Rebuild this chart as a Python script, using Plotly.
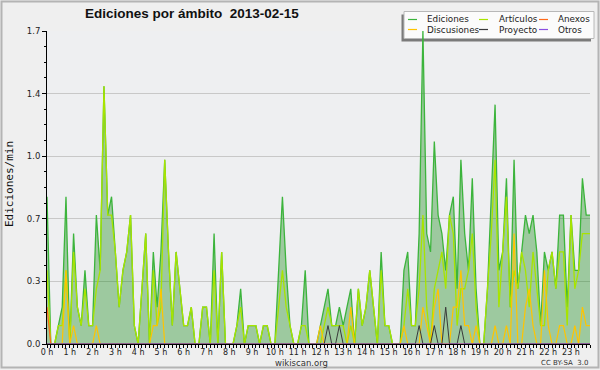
import plotly.graph_objects as go

# 10-minute bins over the day (144 bins), values in edits/min
minutes = list(range(0, 1440, 10))

ediciones = [
    0.8, 0, 0, 0.1, 0.2, 0.8, 0, 0.6, 0.2, 0.1, 0.4, 0.1, 0.1, 0.7, 0.4, 1.4, 0.7, 0.8, 0.5, 0.2, 0.4, 0.5, 0.7, 0.1,
    0, 0.3, 0.6, 0, 0.5, 0.2, 0.5, 1.0, 0.5, 0.1, 0.5, 0.3, 0.1, 0.1, 0.2, 0, 0, 0.2, 0.2, 0, 0.6, 0, 0.5, 0,
    0, 0, 0.1, 0.3, 0, 0.1, 0.1, 0.1, 0, 0.1, 0.1, 0, 0, 0.4, 0.8, 0.4, 0.1, 0, 0, 0.1, 0.4, 0, 0, 0,
    0.1, 0.2, 0.3, 0.1, 0.1, 0.2, 0.1, 0.2, 0.3, 0, 0.3, 0.1, 0.2, 0.4, 0.2, 0, 0.5, 0.1, 0.1, 0, 0, 0, 0.4, 0.5,
    0.1, 0.1, 0.6, 1.7, 0.6, 0.5, 1.1, 0.7, 0.6, 0.4, 0.7, 0.8, 0.3, 1.0, 0.6, 0.4, 0.9, 0.3, 0, 0, 0.3, 0.8, 1.3, 0.4,
    0.5, 0.9, 0.2, 1.0, 0.3, 0.5, 0.7, 0.6, 0.7, 0.5, 0.1, 0.5, 0.4, 0.5, 0.3, 0.7, 0.7, 0.2, 0.7, 0.4, 0.4, 0.9, 0.7, 0.7,
]

articulos = [
    0.4, 0, 0, 0.1, 0.1, 0.4, 0, 0.5, 0.2, 0.1, 0.3, 0.1, 0.1, 0.3, 0.4, 1.4, 0.7, 0.7, 0.5, 0.2, 0.4, 0.5, 0.7, 0.1,
    0, 0.3, 0.6, 0, 0.4, 0.1, 0.2, 1.0, 0.5, 0.1, 0.5, 0.3, 0.1, 0.1, 0.2, 0, 0, 0.2, 0.2, 0, 0.4, 0, 0.5, 0,
    0, 0, 0.1, 0.2, 0, 0.1, 0.1, 0.1, 0, 0.1, 0.1, 0, 0, 0.2, 0.4, 0.2, 0.1, 0, 0, 0.1, 0.1, 0, 0, 0,
    0, 0.1, 0.2, 0.1, 0.1, 0.1, 0.1, 0, 0.1, 0, 0.3, 0.1, 0.2, 0.4, 0.2, 0, 0.4, 0.1, 0.1, 0, 0, 0, 0.1, 0.3,
    0.1, 0.1, 0.3, 0.7, 0.2, 0, 0.3, 0.4, 0.5, 0.3, 0.7, 0.6, 0.1, 0.3, 0.3, 0.4, 0.6, 0.2, 0, 0, 0.3, 0.6, 1.0, 0.2,
    0.5, 0.8, 0.2, 0.4, 0.3, 0.5, 0.4, 0.2, 0.5, 0.3, 0.1, 0.1, 0.4, 0.5, 0.3, 0.5, 0.5, 0.1, 0.7, 0.3, 0.4, 0.6, 0.6, 0.6,
]

anexos = [
    0.2, 0, 0, 0, 0, 0, 0, 0, 0, 0, 0, 0, 0, 0, 0, 0, 0, 0, 0, 0, 0, 0, 0, 0,
    0, 0, 0, 0, 0, 0, 0, 0, 0, 0, 0, 0, 0, 0, 0, 0, 0, 0, 0, 0, 0, 0, 0, 0,
    0, 0, 0, 0, 0, 0, 0, 0, 0, 0, 0, 0, 0, 0, 0, 0, 0, 0, 0, 0, 0, 0, 0, 0,
    0, 0, 0, 0, 0, 0, 0, 0, 0, 0, 0, 0, 0, 0, 0, 0, 0, 0, 0, 0, 0, 0, 0, 0,
    0, 0, 0, 0, 0, 0, 0, 0, 0, 0, 0, 0, 0, 0, 0, 0, 0, 0, 0, 0, 0, 0, 0, 0,
    0, 0, 0, 0, 0, 0, 0, 0, 0, 0, 0, 0, 0, 0, 0, 0, 0, 0, 0, 0, 0, 0, 0, 0,
]

discusiones = [
    0, 0, 0, 0, 0, 0.4, 0, 0.1, 0, 0, 0, 0, 0, 0.1, 0, 0, 0, 0, 0, 0, 0, 0, 0, 0,
    0, 0, 0, 0, 0.1, 0.1, 0.3, 0, 0, 0, 0, 0, 0, 0, 0, 0, 0, 0, 0, 0, 0, 0, 0, 0,
    0, 0, 0, 0, 0, 0, 0, 0, 0, 0, 0, 0, 0, 0, 0, 0, 0, 0, 0, 0, 0, 0, 0, 0,
    0.1, 0, 0, 0, 0, 0, 0, 0, 0.2, 0, 0, 0, 0, 0, 0, 0, 0, 0, 0, 0, 0, 0, 0.1, 0,
    0, 0, 0, 0.2, 0.1, 0, 0.2, 0.3, 0, 0, 0, 0.2, 0.2, 0.4, 0.1, 0.1, 0, 0.1, 0, 0, 0, 0, 0.1, 0,
    0, 0.1, 0, 0.6, 0, 0, 0.2, 0.3, 0.1, 0, 0, 0.4, 0.1, 0, 0, 0.1, 0.1, 0, 0, 0.1, 0, 0.2, 0.1, 0.1,
]

proyecto = [
    0, 0, 0, 0, 0, 0, 0, 0, 0, 0, 0, 0, 0, 0, 0, 0, 0, 0, 0, 0, 0, 0, 0, 0,
    0, 0, 0, 0, 0, 0, 0, 0, 0, 0, 0, 0, 0, 0, 0, 0, 0, 0, 0, 0, 0, 0, 0, 0,
    0, 0, 0, 0, 0, 0, 0, 0, 0, 0, 0, 0, 0, 0, 0, 0, 0, 0, 0, 0, 0, 0, 0, 0,
    0, 0, 0.1, 0, 0, 0.1, 0, 0, 0, 0, 0, 0, 0, 0, 0, 0, 0, 0, 0, 0, 0, 0, 0, 0,
    0, 0, 0.1, 0, 0, 0, 0.1, 0, 0, 0.2, 0, 0, 0, 0.1, 0, 0, 0, 0, 0, 0, 0, 0, 0, 0,
    0, 0, 0, 0, 0, 0, 0, 0, 0, 0, 0, 0, 0, 0, 0, 0, 0, 0, 0, 0, 0, 0, 0, 0,
]

otros = [0] * 144

series_names = ["Ediciones", "Artículos", "Anexos", "Discusiones", "Proyecto", "Otros"]
y_tick_values = [0, 0.34, 0.68, 1.02, 1.36, 1.7]
y_tick_labels = ["0.0", "0.3", "0.7", "1.0", "1.4", "1.7"]

colors = {
    "Ediciones": "#3cb43c",
    "Artículos": "#a8e400",
    "Anexos": "#ff6a1a",
    "Discusiones": "#ffc400",
    "Proyecto": "#3a3a3a",
    "Otros": "#8a4fe0",
}

hours = [m / 60 for m in minutes]

W, H = 600, 370
L, R, T, B = 47, 10, 31, 26
PW, PH = W - L - R, H - T - B


def px(xp):
    return (xp - L) / PW


def py(yp):
    return (H - B - yp) / PH


fig = go.Figure()
fig.add_trace(go.Scatter(x=hours, y=ediciones, name="Ediciones", mode="lines",
                         line=dict(color=colors["Ediciones"], width=1.3),
                         fill="tozeroy", fillcolor="rgba(0,128,0,0.34)"))
for nm, vals, w in [("Artículos", articulos, 1.3), ("Anexos", anexos, 1.2),
                    ("Discusiones", discusiones, 1.2), ("Proyecto", proyecto, 1.0),
                    ("Otros", otros, 1.0)]:
    fig.add_trace(go.Scatter(x=hours, y=vals, name=nm, mode="lines",
                             line=dict(color=colors[nm], width=w)))

shapes = []
annotations = []

# frame around the image
shapes.append(dict(type="rect", xref="paper", yref="paper",
                   x0=px(1.5), x1=px(598.5), y0=py(367.5), y1=py(1.5),
                   line=dict(color="#b4b4b4", width=2), fillcolor="rgba(0,0,0,0)",
                   layer="below"))

# legend box with shadow
shapes.append(dict(type="rect", xref="paper", yref="paper",
                   x0=px(401.5), x1=px(591), y0=py(41.5), y1=py(14.5),
                   line=dict(width=0), fillcolor="#7a7a7a", layer="between"))
shapes.append(dict(type="rect", xref="paper", yref="paper",
                   x0=px(404), x1=px(594), y0=py(38.5), y1=py(11.5),
                   line=dict(color="#b8b8b8", width=1), fillcolor="#fbfbfb", layer="between"))

legend_layout = [
    ("Ediciones", 408, 425, 19.5), ("Artículos", 479, 497, 19.5), ("Anexos", 539, 556, 19.5),
    ("Discusiones", 408, 425, 29.5), ("Proyecto", 479, 497, 29.5), ("Otros", 539, 556, 29.5),
]
for nm, lx, tx, ly in legend_layout:
    shapes.append(dict(type="line", xref="paper", yref="paper",
                       x0=px(lx), x1=px(lx + 9), y0=py(ly), y1=py(ly),
                       line=dict(color=colors[nm], width=1.2), layer="above"))
    annotations.append(dict(text=nm, xref="paper", yref="paper", x=px(tx), y=py(ly),
                            xanchor="left", yanchor="middle", showarrow=False,
                            font=dict(family="DejaVu Sans", size=8.8, color="#222")))

annotations.append(dict(text="Ediciones/min", xref="paper", yref="paper", x=px(9), y=py(184),
                        textangle=-90, xanchor="center", yanchor="middle", showarrow=False,
                        font=dict(family="DejaVu Sans Mono", size=11, color="#111")))
annotations.append(dict(text="wikiscan.org", xref="paper", yref="paper", x=px(301), y=py(362.5),
                        xanchor="center", yanchor="middle", showarrow=False,
                        font=dict(family="DejaVu Sans", size=8.5, color="#333")))
annotations.append(dict(text="CC BY-SA  3.0", xref="paper", yref="paper", x=px(590), y=py(362.5),
                        xanchor="right", yanchor="middle", showarrow=False,
                        font=dict(family="DejaVu Sans", size=7, color="#333")))

fig.update_layout(
    width=W, height=H,
    margin=dict(l=L, r=R, t=T, b=B, pad=0),
    paper_bgcolor="#efefef",
    plot_bgcolor="#eeeff1",
    showlegend=False,
    title=dict(text="<b>Ediciones por ámbito \u00a02013-02-15</b>", x=85 / W, xref="container",
               xanchor="left", y=1 - 13.5 / H, yref="container", yanchor="middle",
               font=dict(family="Liberation Sans", size=13.5, color="#111")),
    shapes=shapes,
    annotations=annotations,
    xaxis=dict(range=[0, hours[-1]], tickmode="linear", tick0=0, dtick=1, ticksuffix=" h",
               tickformat="d", ticks="outside", ticklen=3, tickcolor="#000", tickwidth=1,
               ticklabelstandoff=-3,
               showline=True, linecolor="#000", linewidth=1, showgrid=False, zeroline=False,
               tickfont=dict(family="DejaVu Sans", size=8, color="#222"),
               minor=dict(tickmode="linear", tick0=0, dtick=1 / 6, ticklen=3, ticks="outside",
                          tickcolor="#000", showgrid=False),
               fixedrange=True),
    yaxis=dict(range=[0, 1.7], tickmode="array", tickvals=y_tick_values, ticktext=y_tick_labels,
               ticks="outside", ticklen=4, tickcolor="#000", showline=True, linecolor="#000",
               linewidth=1, showgrid=True, gridcolor="#c8c8c8", gridwidth=1, zeroline=False,
               tickfont=dict(family="DejaVu Sans", size=8.5, color="#222"),
               minor=dict(tickmode="linear", tick0=0, dtick=0.085, ticklen=2, ticks="outside",
                          tickcolor="#000", showgrid=False),
               fixedrange=True),
)

fig.write_html("out.html", config={"displayModeBar": False},
               post_script="document.body.style.margin='0';document.body.style.overflow='hidden';"
                           "document.body.style.background='#efefef';")
